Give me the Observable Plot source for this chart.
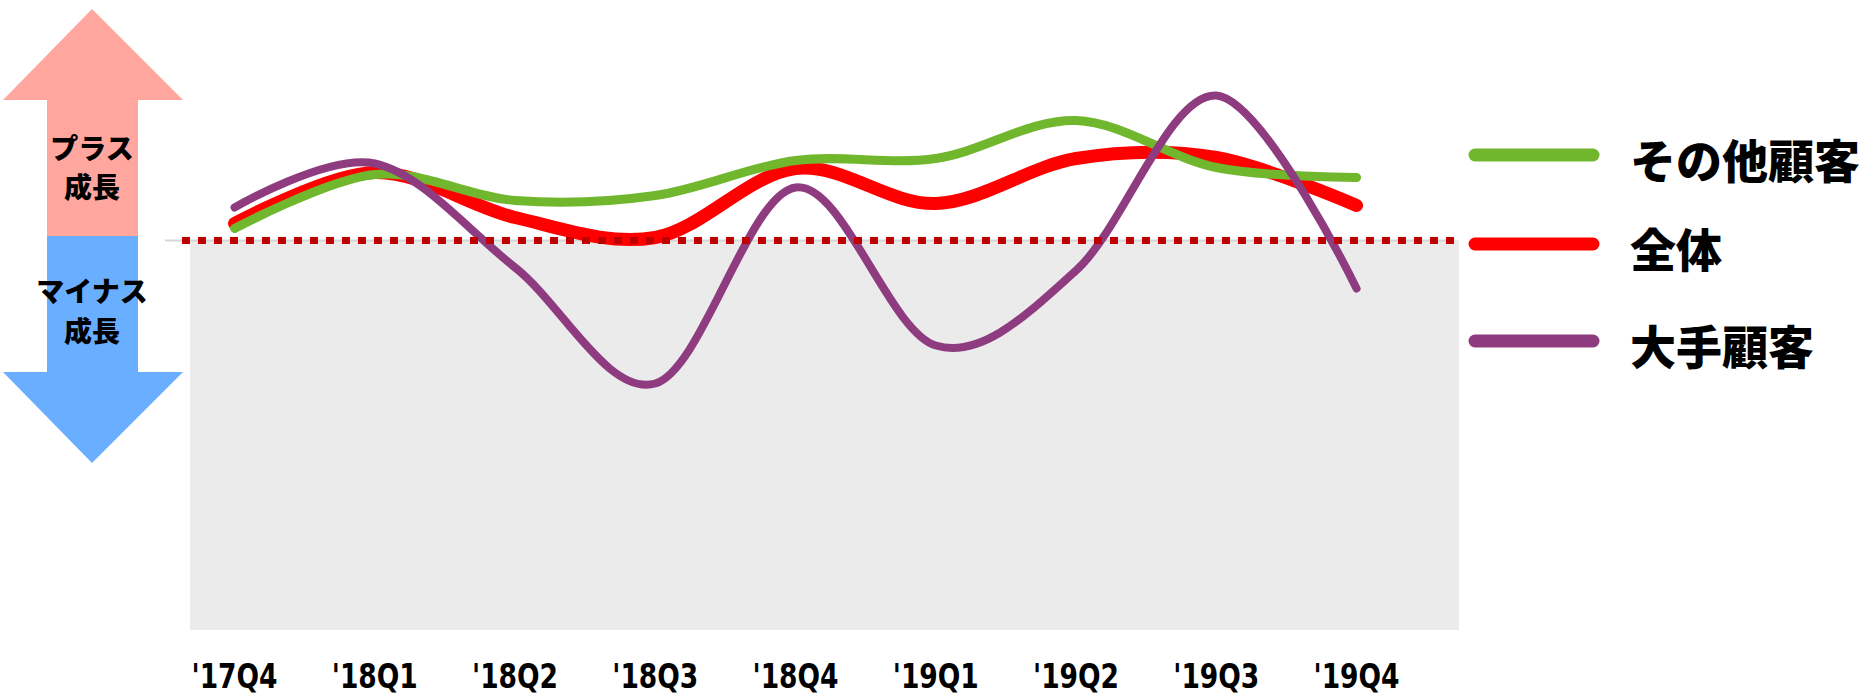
<!DOCTYPE html>
<html>
<head>
<meta charset="utf-8">
<script src="https://cdn.jsdelivr.net/npm/d3@7"></script>
<script src="https://cdn.jsdelivr.net/npm/@observablehq/plot@0.6"></script>
<style>
  html, body { margin: 0; padding: 0; background: #fff; }
  #chart { position: relative; width: 1863px; height: 695px; }
</style>
</head>
<body>
<div id="chart"></div>
<script>
// ---- data ----
const quarters = ["'17Q4", "'18Q1", "'18Q2", "'18Q3", "'18Q4", "'19Q1", "'19Q2", "'19Q3", "'19Q4"];
const seriesNames = ["その他顧客", "全体", "大手顧客"];
const seriesColors = ["#70b72e", "#ff0000", "#8e3b80"];
const otherValues = [1.2, 6.6, 4.0, 4.5, 8.0, 8.2, 12.0, 7.3, 6.3];
const totalValues = [1.7, 6.8, 2.3, 0.3, 7.2, 3.7, 8.2, 8.3, 3.5];
const majorValues = [3.3, 7.7, -2.7, -14.3, 5.3, -10.5, -3.0, 14.5, -4.8];
const arrowLabelsUp = ["プラス", "成長"];
const arrowLabelsDown = ["マイナス", "成長"];

const yDomain = [-39, 20];
const xDomain = [-0.314, 8.734];

const toRows = (vals, name) => vals.map((v, i) => ({i, q: quarters[i], value: v, series: name}));
const otherRows = toRows(otherValues, seriesNames[0]);
const totalRows = toRows(totalValues, seriesNames[1]);
const majorRows = toRows(majorValues, seriesNames[2]);

const cjk = "'Noto Sans CJK JP', 'Noto Sans', sans-serif";

// pick a narrow face for the tick labels if one is installed
const ctx = document.createElement("canvas").getContext("2d");
function textWidth(font, s) { ctx.font = font; return ctx.measureText(s).width; }
const probe = "'17Q4 abcdefg";
const hasNarrow = textWidth("bold 40px 'Liberation Sans Narrow', monospace", probe) !== textWidth("bold 40px monospace", probe);
const tickFamily = hasNarrow ? "'Liberation Sans Narrow'" : "'DejaVu Sans Condensed', 'DejaVu Sans'";
const tickFont = 34;
const tickTargetWidth = 86;

// decorative growth arrows, anchored on the y scale's zero
function arrows(index, scales) {
  const y0 = scales.y(0);
  const g = d3.create("svg:g");
  const cx = 92, headL = 3, headR = 183, shaftL = 47, shaftR = 138;
  const topTip = 9, topBase = 100, botBase = 372, botTip = 463, mid = y0 - 4;
  g.append("polygon")
    .attr("points", [[cx, topTip], [headR, topBase], [shaftR, topBase], [shaftR, mid], [shaftL, mid], [shaftL, topBase], [headL, topBase]].join(" "))
    .attr("fill", "#ffa69e");
  g.append("polygon")
    .attr("points", [[shaftL, mid], [shaftR, mid], [shaftR, botBase], [headR, botBase], [cx, botTip], [headL, botBase], [shaftL, botBase]].join(" "))
    .attr("fill", "#6aaeff");
  const addText = (lines, ys) => lines.forEach((t, k) => {
    g.append("text").attr("x", cx).attr("y", ys[k])
      .attr("text-anchor", "middle").attr("dominant-baseline", "central")
      .attr("font-family", cjk).attr("font-weight", 900).attr("font-size", 28)
      .attr("fill", "#000").text(t);
  });
  addText(arrowLabelsUp, [147, 186]);
  addText(arrowLabelsDown, [290, 330]);
  return g.node();
}

const plot = Plot.plot({
  width: 1863,
  height: 695,
  marginLeft: 190,
  marginRight: 404,
  marginTop: 40,
  marginBottom: 65,
  style: {
    fontFamily: `${tickFamily}, sans-serif`,
    fontSize: `${tickFont}px`,
    fontWeight: "bold",
    color: "#000",
    background: "#fff",
    overflow: "visible"
  },
  x: {
    domain: xDomain,
    ticks: d3.range(quarters.length),
    tickFormat: i => quarters[i],
    tickSize: 0,
    tickPadding: 33,
    label: null
  },
  y: { domain: yDomain, axis: null },
  marks: [
    Plot.rect([0], { y1: 0, y2: yDomain[0], fill: "#ebebeb" }),
    Plot.ruleY([0], { stroke: "#d6d6d6", strokeWidth: 2, insetLeft: -25, insetRight: 4 }),
    Plot.line(totalRows, { x: "i", y: "value", stroke: seriesColors[1], strokeWidth: 13, curve: "cardinal", tension: 0 }),
    Plot.line(otherRows, { x: "i", y: "value", stroke: seriesColors[0], strokeWidth: 9, curve: "cardinal", tension: 0 }),
    Plot.line(majorRows, { x: "i", y: "value", stroke: seriesColors[2], strokeWidth: 8, curve: "cardinal", tension: 0 }),
    Plot.ruleY([0], { stroke: "#c00000", strokeWidth: 7, strokeDasharray: "8,8", insetLeft: -8, insetRight: 4 }),
    arrows
  ]
});

// legend on the right
const svg = d3.select(plot);
const lg = svg.append("g");
const rowY = [155, 244, 341];
seriesNames.forEach((name, k) => {
  lg.append("line").attr("x1", 1475).attr("x2", 1593).attr("y1", rowY[k]).attr("y2", rowY[k])
    .attr("stroke", seriesColors[k]).attr("stroke-width", 13).attr("stroke-linecap", "round");
  lg.append("text").attr("x", 1630).attr("y", rowY[k] + 3)
    .attr("text-anchor", "start")
    .attr("dominant-baseline", "central")
    .attr("font-family", cjk).attr("font-weight", 900).attr("font-size", 46)
    .attr("fill", "#000").text(name);
});

document.getElementById("chart").appendChild(plot);

// squeeze the tick labels horizontally to the reference's narrow face
const tickTexts = svg.selectAll('g[aria-label="x-axis tick label"] text, g[aria-label="x-axis"] .tick text');
const first = tickTexts.node();
if (first && first.getComputedTextLength) {
  const f = tickTargetWidth / first.getComputedTextLength();
  if (f < 1) {
    tickTexts.each(function () {
      const w = this.getComputedTextLength();
      this.setAttribute("textLength", (w * f).toFixed(1));
      this.setAttribute("lengthAdjust", "spacingAndGlyphs");
    });
  }
}
</script>
</body>
</html>
